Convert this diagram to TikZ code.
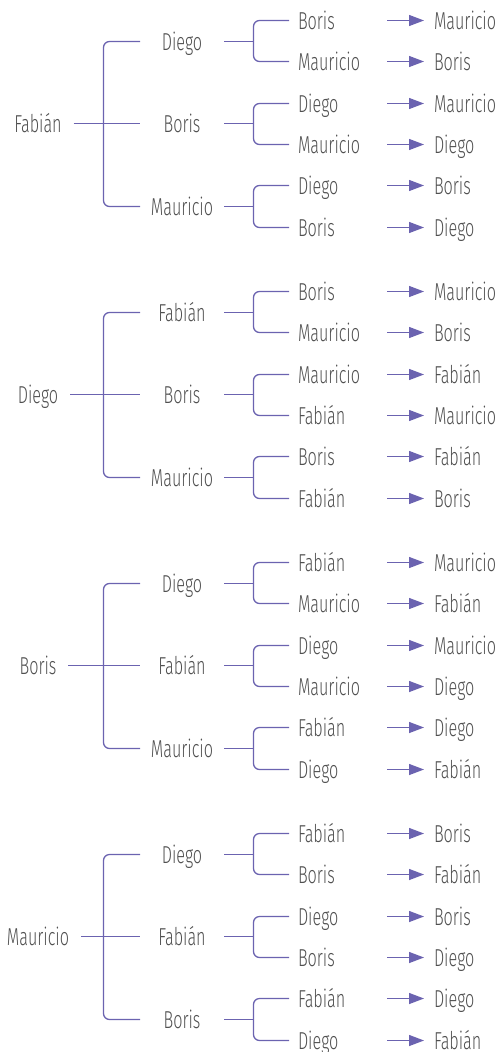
\documentclass[tikz,border=0pt]{standalone}
\usepackage{fontspec}
\usetikzlibrary{arrows.meta}
\newfontfamily\arbrefont{Fira Sans}[UprightFont=* Light,FakeStretch=0.66]
\newcommand\arbre{\arbrefont\fontsize{24.5}{28}\selectfont}
\definecolor{trait}{RGB}{107,99,176}
\definecolor{texte}{RGB}{80,80,80}
\tikzset{
  nom/.style={font=\arbre,text=texte,inner sep=0pt,outer sep=0pt,text height=17pt,text depth=0pt},
  racine/.style={nom,outer xsep=12pt},
  milieu/.style={nom,minimum width=84pt},
  feuille/.style={nom,anchor=west,text width=80pt,align=left,outer xsep=9pt},
  fin/.style={nom,anchor=west,outer xsep=10pt},
  lien/.style={draw=trait,line width=1.3pt},
  fleche/.style={lien,-{Triangle[length=15pt,width=11pt]}}
}
\begin{document}
\begin{tikzpicture}[x=1pt,y=1pt]
\useasboundingbox (0,0) rectangle (502,-1052);
\def\pas{41.3}
\def\bloc{271}
% feuilles et fleches
\foreach \g/\i/\j/\a/\b in {%
 1/1/1/Boris/Mauricio, 1/1/2/Mauricio/Boris,
 1/2/1/Diego/Mauricio, 1/2/2/Mauricio/Diego,
 1/3/1/Diego/Boris, 1/3/2/Boris/Diego,
 2/1/1/Boris/Mauricio, 2/1/2/Mauricio/Boris,
 2/2/1/Mauricio/Fabián, 2/2/2/Fabián/Mauricio,
 2/3/1/Boris/Fabián, 2/3/2/Fabián/Boris,
 3/1/1/Fabián/Mauricio, 3/1/2/Mauricio/Fabián,
 3/2/1/Diego/Mauricio, 3/2/2/Mauricio/Diego,
 3/3/1/Fabián/Diego, 3/3/2/Diego/Fabián,
 4/1/1/Fabián/Boris, 4/1/2/Boris/Fabián,
 4/2/1/Diego/Boris, 4/2/2/Boris/Diego,
 4/3/1/Fabián/Diego, 4/3/2/Diego/Fabián}{
  \pgfmathsetmacro\yy{-(round(20+\bloc*(\g-1)+\pas*(2*\i+\j-3))+0.5)}
  \node[feuille] (l\g\i\j) at (289,\yy) {\a};
  \node[fin] (f\g\i\j) at (424,\yy) {\b};
  \draw[fleche] (l\g\i\j.east) -- (f\g\i\j.west);}
% second niveau
\foreach \g/\i/\m in {%
 1/1/Diego, 1/2/Boris, 1/3/Mauricio,
 2/1/Fabián, 2/2/Boris, 2/3/Mauricio,
 3/1/Diego, 3/2/Fabián, 3/3/Mauricio,
 4/1/Diego, 4/2/Fabián, 4/3/Boris}{
  \pgfmathsetmacro\yy{-(round(20+\bloc*(\g-1)+\pas*(2*\i-2)+\pas/2)+0.5)}
  \node[milieu] (m\g\i) at (182,\yy) {\m};
  \coordinate (lj\g\i) at (253.5,\yy);
  \draw[lien] (m\g\i.east) -- (lj\g\i);
  \draw[lien,rounded corners=6pt] (l\g\i1.west) -| (lj\g\i) |- (l\g\i2.west);}
% racines
\foreach \g/\r in {1/Fabián,2/Diego,3/Boris,4/Mauricio}{
  \pgfmathsetmacro\yy{-(round(20+\bloc*(\g-1)+\pas*2.5)+0.5)}
  \node[racine] (r\g) at (38,\yy) {\r};
  \coordinate (rj\g) at (103.5,\yy);
  \draw[lien] (r\g.east) -- (m\g2.west);
  \draw[lien,rounded corners=6pt] (m\g1.west) -| (rj\g) |- (m\g3.west);}
\end{tikzpicture}
\end{document}
